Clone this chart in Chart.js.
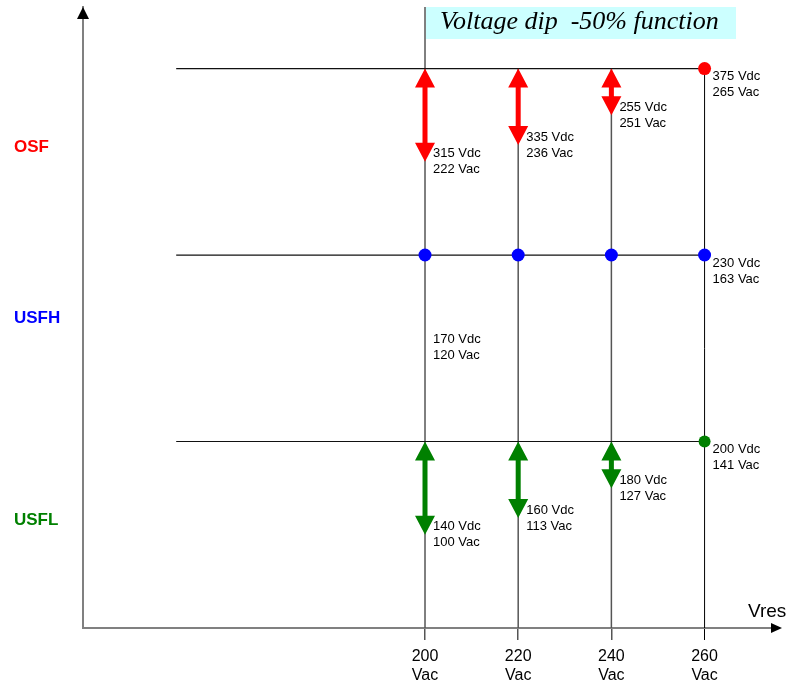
<!DOCTYPE html>
<html>
<head>
<meta charset="utf-8">
<title>Voltage dip -50% function</title>
<script src="https://cdn.jsdelivr.net/npm/chart.js@4.4.1/dist/chart.umd.min.js"></script>
<style>
	html, body { margin: 0; padding: 0; background: #fff; }
	canvas { display: block; }
</style>
</head>
<body>
<canvas id="dipChart" width="795" height="689"></canvas>
<script>
"use strict";

// residual voltage steps (Vac) on the x axis
const resVoltages = [200, 220, 240, 260];
const tickUnit = "Vac";

// thresholds: each band sits on its own level, top to bottom
const bandNames = ["OSF", "USFH", "USFL"];
const bandColors = ["#ff0000", "#0000ff", "#008000"];
const bandLevels = [3, 2, 1];
const bandNameLevels = [2.58, 1.66, 0.58];
const bandLineStart = 146.6;

// threshold values at 260 Vac
const limitTexts = [["375 Vdc", "265 Vac"], ["230 Vdc", "163 Vac"], ["200 Vdc", "141 Vac"]];

// OSF drops (arrow tips) at 200 / 220 / 240 Vac
const osfTips = [2.5, 2.59, 2.75];
const osfTexts = [["315 Vdc", "222 Vac"], ["335 Vdc", "236 Vac"], ["255 Vdc", "251 Vac"]];

// USFL drops at 200 / 220 / 240 Vac
const usflTips = [0.5, 0.59, 0.75];
const usflTexts = [["140 Vdc", "100 Vac"], ["160 Vdc", "113 Vac"], ["180 Vdc", "127 Vac"]];

// USFH note below the blue points
const usfhNote = { x: 200, level: 1.545, text: ["170 Vdc", "120 Vac"] };

const titleText = "Voltage dip  -50% function";
const axisName = "Vres";

const SANS = '"Liberation Sans", Arial, sans-serif';
const SERIF = '"Liberation Serif", "Times New Roman", serif';


function drawArrow(ctx, x, yTop, yBottom, color) {
	const hw = 10, hl = 19, sw = 2.5;
	ctx.beginPath();
	ctx.moveTo(x, yTop);
	ctx.lineTo(x + hw, yTop + hl);
	ctx.lineTo(x + sw, yTop + hl);
	ctx.lineTo(x + sw, yBottom - hl);
	ctx.lineTo(x + hw, yBottom - hl);
	ctx.lineTo(x, yBottom);
	ctx.lineTo(x - hw, yBottom - hl);
	ctx.lineTo(x - sw, yBottom - hl);
	ctx.lineTo(x - sw, yTop + hl);
	ctx.lineTo(x - hw, yTop + hl);
	ctx.closePath();
	ctx.fillStyle = color;
	ctx.fill();
}

function drawPair(ctx, x, y, lines) {
	ctx.fillStyle = "#000";
	ctx.font = `13px ${SANS}`;
	ctx.textAlign = "left";
	ctx.textBaseline = "middle";
	ctx.fillText(lines[0], x, y);
	ctx.fillText(lines[1], x, y + 16);
}

// title box behind the lines
const titleBox = {
	id: "titleBox",
	beforeDatasetsDraw(chart) {
		const { ctx, scales: { x }, chartArea } = chart;
		const left = x.getPixelForValue(resVoltages[0]) + 1;
		ctx.save();
		ctx.fillStyle = "#ccffff";
		ctx.fillRect(left, chartArea.top, 310, 32);
		ctx.fillStyle = "#000";
		ctx.font = `italic 26px ${SERIF}`;
		ctx.textAlign = "left";
		ctx.textBaseline = "alphabetic";
		ctx.fillText(titleText, left + 14, chartArea.top + 22);
		ctx.restore();
	}
};

// arrows, value labels, band names and axis heads
const annotations = {
	id: "annotations",
	afterDatasetsDraw(chart) {
		const { ctx, scales: { x, y }, chartArea } = chart;
		ctx.save();

		[[osfTips, osfTexts, 0], [usflTips, usflTexts, 2]].forEach(([tips, texts, b]) => {
			tips.forEach((tip, i) => {
				const px = x.getPixelForValue(resVoltages[i]);
				const yTip = y.getPixelForValue(tip);
				drawArrow(ctx, px, y.getPixelForValue(bandLevels[b]), yTip, bandColors[b]);
				drawPair(ctx, px + 8, yTip - 8, texts[i]);
			});
		});

		const last = resVoltages[resVoltages.length - 1];
		limitTexts.forEach((t, b) => {
			drawPair(ctx, x.getPixelForValue(last) + 8, y.getPixelForValue(bandLevels[b]) + 8, t);
		});
		drawPair(ctx, x.getPixelForValue(usfhNote.x) + 8, y.getPixelForValue(usfhNote.level), usfhNote.text);

		ctx.font = `bold 17px ${SANS}`;
		ctx.textAlign = "left";
		ctx.textBaseline = "middle";
		bandNames.forEach((name, b) => {
			ctx.fillStyle = bandColors[b];
			ctx.fillText(name, 14, y.getPixelForValue(bandNameLevels[b]));
		});

		// arrow heads on both axes
		ctx.fillStyle = "#000";
		ctx.beginPath();
		ctx.moveTo(chartArea.left, chartArea.top);
		ctx.lineTo(chartArea.left + 6, chartArea.top + 12);
		ctx.lineTo(chartArea.left - 6, chartArea.top + 12);
		ctx.closePath();
		ctx.fill();
		ctx.beginPath();
		ctx.moveTo(chartArea.right + 8, chartArea.bottom);
		ctx.lineTo(chartArea.right - 3, chartArea.bottom - 5);
		ctx.lineTo(chartArea.right - 3, chartArea.bottom + 5);
		ctx.closePath();
		ctx.fill();

		ctx.font = `19px ${SANS}`;
		ctx.textBaseline = "middle";
		ctx.fillText(axisName, chartArea.right - 26, chartArea.bottom - 16);
		ctx.restore();
	}
};

const yTop = 3.33;
const datasets = [];

// threshold dots
datasets.push({
	data: [{ x: 260, y: 3 }],
	backgroundColor: bandColors[0], borderWidth: 0, pointRadius: 6.5, order: 0
});
datasets.push({
	data: resVoltages.map(v => ({ x: v, y: 2 })),
	backgroundColor: bandColors[1], borderWidth: 0, pointRadius: 6.5, order: 0
});
datasets.push({
	data: [{ x: 260, y: 1 }],
	backgroundColor: bandColors[2], borderWidth: 0, pointRadius: 6, order: 0
});

// level lines
bandLevels.forEach(level => {
	datasets.push({
		data: [{ x: bandLineStart, y: level }, { x: 260, y: level }],
		showLine: true, borderColor: "#111", borderWidth: 1.2, pointRadius: 0, order: 1
	});
});

// vertical lines at every residual voltage, the first one runs up to the title
resVoltages.forEach((v, i) => {
	datasets.push({
		data: [{ x: v, y: 0 }, { x: v, y: i === 0 ? yTop : 3 }],
		showLine: true,
		borderColor: i === resVoltages.length - 1 ? "#000" : "#555",
		borderWidth: i === resVoltages.length - 1 ? 1 : 1.5,
		pointRadius: 0, order: 2
	});
});

const ctx = document.getElementById("dipChart").getContext("2d");
const dipChart = new Chart(ctx, {
	type: "scatter",
	data: { datasets },
	options: {
		responsive: false,
		animation: false,
		events: [],
		layout: { padding: { left: 83, right: 21, top: 7, bottom: 0 } },
		plugins: {
			legend: { display: false },
			tooltip: { enabled: false }
		},
		scales: {
			x: {
				type: "linear",
				min: 126.6,
				max: 274.9,
				afterBuildTicks: s => { s.ticks = resVoltages.map(v => ({ value: v })); },
				afterFit: s => { s.height = 61; },
				ticks: {
					autoSkip: false,
					maxRotation: 0,
					padding: 7,
					color: "#000",
					font: { family: SANS, size: 16 },
					callback: v => [String(v), tickUnit]
				},
				grid: {
					drawOnChartArea: false,
					drawTicks: true,
					tickLength: 12,
					color: c => (c.tick && c.tick.value === 260 ? "#000" : "#555"),
					lineWidth: c => (c.tick && c.tick.value === 260 ? 1 : 1.5)
				},
				border: { color: "#808080", width: 2 }
			},
			y: {
				type: "linear",
				min: 0,
				max: yTop,
				afterFit: s => { s.width = 0; },
				ticks: { display: false },
				grid: { display: false, drawTicks: false },
				border: { color: "#808080", width: 2 }
			}
		}
	},
	plugins: [titleBox, annotations]
});
</script>
</body>
</html>
